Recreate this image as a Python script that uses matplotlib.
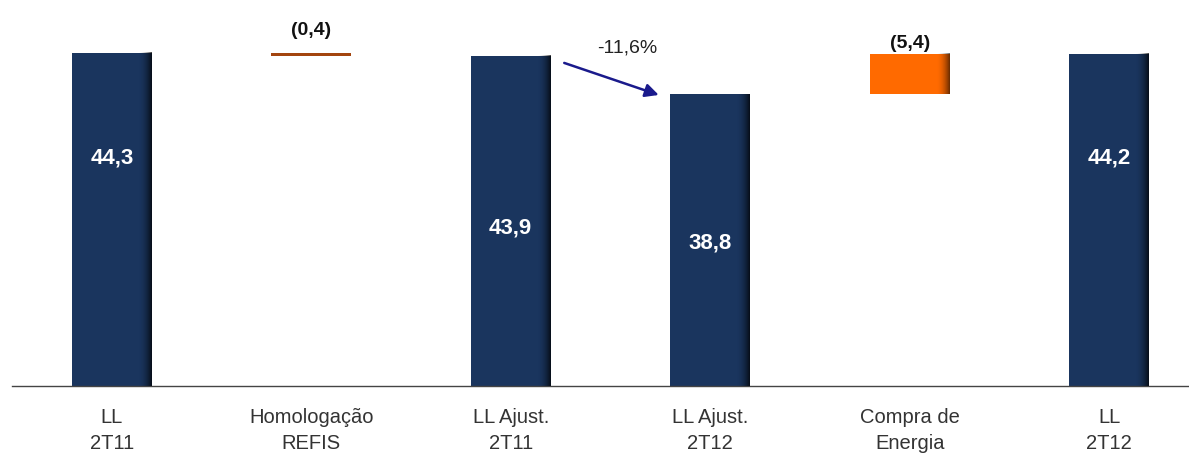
import matplotlib.pyplot as plt
import numpy as np

# data
categories = ["LL\n2T11", "Homologação\nREFIS", "LL Ajust.\n2T11", "LL Ajust.\n2T12", "Compra de\nEnergia", "LL\n2T12"]
values = [44.3, -0.4, 43.9, 38.8, 5.4, 44.2]
kinds = ["total", "delta", "total", "total", "delta", "total"]
value_labels = ["44,3", "(0,4)", "43,9", "38,8", "(5,4)", "44,2"]
change_label = "-11,6%"

navy = "#1a355e"
orange = "#ff6a00"
brown = "#a3450f"
fonts = ["Liberation Sans Narrow", "Liberation Sans", "DejaVu Sans"]

fig = plt.figure(figsize=(11.89, 4.58), dpi=100)
ax = fig.add_axes([0.0101, 0.157, 0.9899, 0.843])
ax.set_xlim(-0.5, 5.4)
ax.set_ylim(0, 51.35)

w = 0.4
# y positions (data units) of the white labels inside the total bars
inner_y = {0: 30.3, 2: 21.0, 3: 19.0, 5: 30.3}

for i, (v, k) in enumerate(zip(values, kinds)):
    if k == "total":
        ax.bar(i, v, width=w, color=navy, zorder=2)
        # darker shading on the right edge
        grad = np.linspace(0, 1, 50) ** 2
        img = np.zeros((1, 50, 4))
        img[..., 3] = grad * 0.75
        ax.imshow(img, extent=(i + w / 2 - 0.07, i + w / 2, 0, v), aspect="auto", zorder=3)
        ax.text(i, inner_y[i], value_labels[i], color="white", fontsize=16, fontweight="bold",
                ha="center", va="center", family=fonts, zorder=4)
    else:
        prev = values[i - 1]
        if v < 0:
            top = prev
            bottom = prev + v
            ax.bar(i, top - bottom, bottom=bottom, width=w, color=brown, zorder=2)
            ax.text(i, top + 3.0, value_labels[i], color="#111111", fontsize=14, fontweight="bold",
                    ha="center", va="center", family=fonts)
        else:
            bottom = prev
            top = prev + v
            ax.bar(i, top - bottom, bottom=bottom, width=w, color=orange, zorder=2)
            grad = np.linspace(0, 1, 50) ** 2
            img = np.zeros((1, 50, 4))
            img[..., 3] = grad * 0.6
            ax.imshow(img, extent=(i + w / 2 - 0.07, i + w / 2, bottom, top), aspect="auto", zorder=3)
            ax.text(i, top + 1.3, value_labels[i], color="#111111", fontsize=14, fontweight="bold",
                    ha="center", va="center", family=fonts)

# arrow between adjusted results
ax.annotate("", xy=(2.755, values[3] - 0.2), xytext=(2.255, 43.1),
            arrowprops=dict(arrowstyle="-|>", color="#1a1a8c", lw=1.8, mutation_scale=20))
ax.text(2.585, 45.0, change_label, fontsize=14, ha="center", va="center", color="#222222", family=fonts)

ax.set_xticks(range(len(categories)))
ax.set_xticklabels(categories, fontsize=14.5, color="#333333", family=fonts, linespacing=1.45)
ax.tick_params(axis="x", length=0, pad=16)
ax.set_yticks([])
for s in ["top", "right", "left"]:
    ax.spines[s].set_visible(False)
ax.spines["bottom"].set_color("#444444")
ax.spines["bottom"].set_linewidth(1.0)

fig.savefig("out.png", dpi=100)
